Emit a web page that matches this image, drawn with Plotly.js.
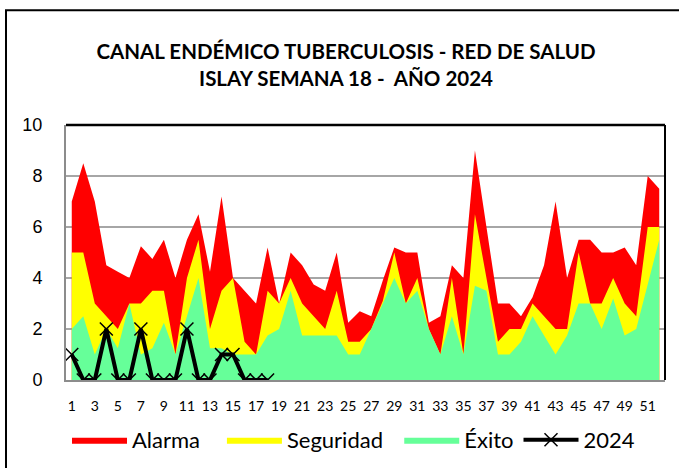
<!DOCTYPE html>
<html>
<head>
<meta charset="utf-8">
<script src="https://cdn.plot.ly/plotly-3.0.1.min.js"></script>
<style>
  body { margin: 0; background: #fff; }
  #chart { width: 679px; height: 468px; }
</style>
</head>
<body>
<div id="chart"></div>
<script>
let semanas = [];
for (let i = 1; i <= 52; i++) semanas.push(i);

let alarma = [7, 8.5, 7, 4.5, 4.25, 4, 5.25, 4.75, 5.5, 4, 5.5, 6.5, 4.25, 7.2, 4, 3.5, 3, 5.2,
  3, 5, 4.5, 3.75, 3.5, 5, 2.25, 2.7, 2.5, 3.9, 5.2, 5, 5, 2.25, 2.5, 4.5, 4, 9,
  6, 3, 3, 2.5, 3.25, 4.5, 7, 4, 5.5, 5.5, 5, 5, 5.2, 4.5, 8, 7.5];
let seguridad = [5, 5, 3, 2.5, 2, 3, 3, 3.5, 3.5, 1, 4, 5.5, 2, 3.5, 4, 1.5, 1, 3.5,
  3, 4, 3, 2.5, 2, 3.5, 1.5, 1.5, 2, 3.1, 5, 3, 4, 2, 1, 4, 1, 6.5,
  4, 1.5, 2, 2, 3, 2.5, 2, 2, 5, 3, 3, 4, 3, 2.5, 6, 6];
let exito = [2, 2.5, 1, 2, 1.25, 3, 1, 1.25, 2.25, 1, 2.5, 4, 1.25, 1.25, 1, 1, 1, 1.75,
  2, 3.5, 1.75, 1.75, 1.75, 1.75, 1, 1, 2, 3, 4, 3, 3.5, 2, 1, 2.5, 1, 3.7,
  3.5, 1, 1, 1.5, 2.5, 1.75, 1, 1.75, 3, 3, 2, 3.2, 1.75, 2, 3.75, 5.5];
let casos2024 = [1, 0, 0, 2, 0, 0, 2, 0, 0, 0, 2, 0, 0, 1, 1, 0, 0, 0];

// espacios duros para separar las entradas de la leyenda
const sp = n => "\u00A0".repeat(n);

function area(name, y, color) {
  return {
    x: semanas, y: y, name: name, type: "scatter", mode: "lines",
    fill: "tozeroy", fillcolor: color, line: {width: 0, color: color},
    hoverinfo: "skip"
  };
}

let data = [
  area("Alarma" + sp(3), alarma, "#FF0000"),
  area("Seguridad" + sp(2), seguridad, "#FFFF00"),
  area("Éxito", exito, "#66FF99"),
  {
    x: semanas.slice(0, casos2024.length), y: casos2024, name: "2024",
    type: "scatter", mode: "lines+markers",
    line: {color: "#000", width: 4},
    marker: {symbol: "x-thin", size: 13, line: {color: "#000", width: 1.5}}
  }
];

let layout = {
  width: 679, height: 468,
  margin: {l: 66, r: 14, t: 125, b: 88},
  paper_bgcolor: "#fff", plot_bgcolor: "#fff",
  font: {family: "Lato, sans-serif", color: "#000"},
  title: {
    text: "CANAL ENDÉMICO TUBERCULOSIS - RED DE SALUD<br>ISLAY SEMANA 18 -  AÑO 2024",
    font: {family: "Lato, sans-serif", size: 20.5, weight: "bold", color: "#000"},
    xref: "container", x: 346 / 679, xanchor: "center",
    yref: "container", y: 1 - 59 / 468, yanchor: "middle"
  },
  xaxis: {
    range: [0.5, 52.5], tick0: 1, dtick: 2,
    showgrid: false, zeroline: false,
    showline: true, linecolor: "#8c8c8c", linewidth: 2,
    ticks: "outside", ticklen: 12, tickcolor: "rgba(0,0,0,0)",
    tickfont: {family: "Lato, sans-serif", size: 14, color: "#000"}
  },
  yaxis: {
    range: [0, 10], dtick: 2,
    showgrid: true, gridcolor: "#a6a6a6", gridwidth: 1.5,
    zeroline: false,
    showline: true, linecolor: "#8c8c8c", linewidth: 2,
    ticks: "outside", ticklen: 18, tickcolor: "rgba(0,0,0,0)",
    tickfont: {family: "Liberation Sans, Arial, sans-serif", size: 18, color: "#000"}
  },
  showlegend: true,
  legend: {
    orientation: "h",
    xref: "container", x: 67 / 679, xanchor: "left",
    yref: "container", y: 1 - 440 / 468, yanchor: "middle",
    font: {family: "Lato, sans-serif", size: 22, color: "#000"},
    itemwidth: 55, traceorder: "normal"
  },
  shapes: [
    // marco exterior del gráfico
    {type: "rect", xref: "paper", yref: "paper",
     x0: -60 / 599, x1: 1.1, y0: -0.5, y1: 370.5 / 255.5,
     line: {color: "#000", width: 2}},
    // borde superior y derecho del área de trazado
    {type: "line", xref: "paper", yref: "paper", x0: 0, x1: 1, y0: 1, y1: 1,
     line: {color: "#000", width: 2.5}},
    {type: "line", xref: "paper", yref: "paper", x0: 1, x1: 1, y0: 0, y1: 1,
     line: {color: "#000", width: 2}}
  ]
};

Plotly.newPlot("chart", data, layout, {displayModeBar: false, staticPlot: true});
</script>
</body>
</html>
